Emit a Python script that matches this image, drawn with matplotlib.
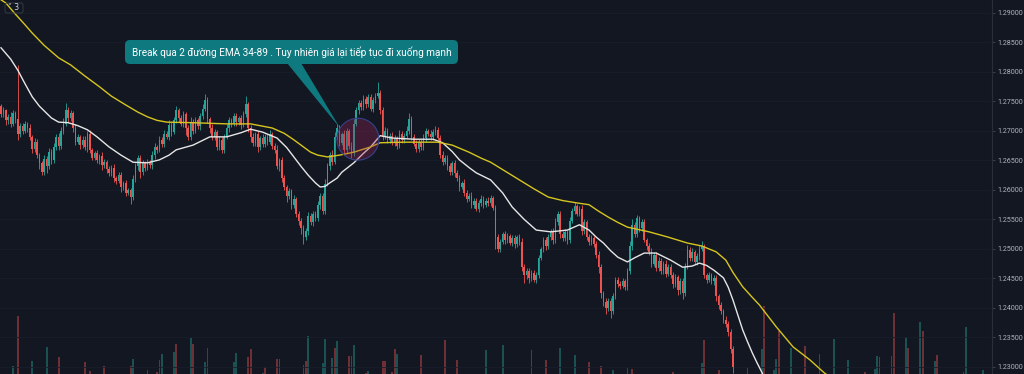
import matplotlib
matplotlib.use('Agg')
import matplotlib.pyplot as plt
from matplotlib.patches import Ellipse, FancyBboxPatch, Polygon
from matplotlib.transforms import IdentityTransform
import numpy as np

# prices are kept in pips above BASE (1.2735 -> 735)
BASE = 1.2
first_open = 742

closes = [
    728, 735, 718, 724, 712, 730, 720, 695, 708, 700,
    712, 705, 690, 670, 682, 660, 645, 630, 652, 640,
    665, 650, 672, 690, 675, 700, 712, 735, 722, 730,
    705, 682, 690, 676, 684, 672, 695, 668, 655, 662,
    650, 658, 642, 648, 635, 628, 638, 620, 615, 625,
    605, 612, 595, 600, 588, 618, 640, 655, 630, 645,
    638, 648, 642, 660, 672, 668, 685, 678, 695, 690,
    710, 698, 718, 735, 722, 712, 728, 705, 690, 715,
    700, 718, 708, 725, 738, 752, 720, 705, 690, 698,
    672, 685, 668, 690, 705, 718, 712, 725, 715, 722,
    710, 728, 745, 705, 690, 680, 695, 672, 688, 678,
    690, 682, 695, 675, 668, 640, 650, 620, 605, 590,
    598, 575, 585, 560, 548, 535, 520, 530, 555, 545,
    560, 552, 575, 590, 565, 610, 640, 660, 648, 690,
    705, 680, 695, 668, 700, 675, 662, 712, 735, 748,
    740, 755, 745, 758, 738, 752, 760, 765, 735, 690,
    700, 685, 692, 680, 688, 675, 695, 685, 692, 700,
    720, 690, 678, 670, 682, 672, 688, 700, 695, 690,
    698, 702, 688, 660, 648, 655, 640, 630, 645, 628,
    620, 605, 612, 595, 585, 590, 575, 582, 568, 578,
    585, 575, 582, 578, 586, 570, 520, 500, 512, 525,
    515, 522, 510, 518, 508, 520, 512, 470, 455, 462,
    450, 460, 448, 455, 485, 500, 515, 505, 520, 530,
    515, 545, 560, 525, 518, 528, 515, 548, 565, 572,
    560, 568, 530, 545, 520, 512, 518, 508, 490, 470,
    425, 410, 400, 412, 395, 420, 448, 440, 438, 445,
    436, 462, 505, 540, 525, 552, 535, 545, 515, 505,
    495, 475, 490, 468, 480, 462, 475, 458, 470, 455,
    440, 452, 430, 445, 425, 470, 498, 485, 495, 478,
    488, 500, 505, 455, 448, 455, 445, 450, 420, 405,
    395, 380, 372, 360, 330, 300,
]

wick_up = [
    4, 6, 3, 5, 8, 6, 4, 92, 5, 6,
    5, 4, 7, 3, 6, 5, 3, 4, 8, 5,
    6, 4, 8, 5, 6, 7, 10, 12, 5, 6,
    4, 6, 5, 3, 7, 8, 5, 6, 3, 4,
    5, 3, 6, 4, 3, 5, 4, 6, 3, 5,
    6, 4, 5, 3, 4, 8, 6, 5, 4, 6,
    4, 5, 3, 6, 8, 5, 7, 4, 6, 5,
    8, 5, 6, 7, 4, 5, 6, 4, 5, 8,
    6, 5, 4, 6, 8, 10, 5, 4, 6, 5,
    4, 6, 5, 4, 6, 5, 4, 6, 5, 4,
    5, 6, 14, 4, 5, 6, 4, 5, 3, 6,
    5, 4, 6, 3, 5, 8, 4, 6, 5, 4,
    5, 4, 6, 3, 5, 4, 6, 5, 8, 6,
    5, 4, 6, 5, 4, 8, 6, 5, 7, 8,
    6, 5, 4, 6, 5, 4, 6, 8, 6, 5,
    4, 6, 5, 4, 5, 6, 5, 18, 4, 5,
    6, 5, 4, 6, 5, 4, 6, 5, 4, 8,
    10, 5, 4, 6, 5, 4, 6, 5, 4, 6,
    5, 6, 4, 5, 6, 4, 5, 6, 4, 5,
    6, 5, 4, 6, 5, 4, 6, 5, 4, 5,
    6, 5, 4, 6, 5, 4, 5, 6, 5, 4,
    6, 5, 4, 5, 6, 4, 5, 6, 4, 5,
    6, 5, 4, 6, 5, 4, 5, 6, 5, 4,
    6, 8, 5, 4, 6, 5, 4, 6, 5, 8,
    5, 4, 6, 5, 4, 6, 5, 4, 5, 6,
    5, 4, 6, 5, 4, 6, 5, 4, 6, 5,
    4, 6, 8, 10, 5, 6, 4, 5, 6, 4,
    5, 6, 4, 5, 6, 4, 5, 6, 4, 5,
    6, 5, 4, 6, 5, 6, 8, 5, 6, 4,
    5, 6, 8, 4, 5, 6, 4, 5, 6, 4,
    5, 4, 6, 5, 4, 5,
]

wick_dn = [
    5, 4, 8, 6, 5, 4, 6, 10, 5, 6,
    4, 6, 5, 8, 5, 6, 10, 5, 4, 12,
    5, 6, 4, 5, 8, 6, 5, 4, 6, 5,
    6, 5, 4, 6, 5, 4, 8, 6, 5, 4,
    5, 6, 8, 4, 6, 5, 4, 6, 5, 4,
    8, 5, 6, 4, 12, 5, 4, 6, 10, 5,
    6, 4, 5, 6, 8, 5, 4, 6, 5, 4,
    5, 6, 4, 5, 6, 4, 5, 12, 6, 5,
    6, 4, 5, 6, 4, 5, 6, 8, 5, 6,
    5, 4, 6, 5, 4, 6, 5, 4, 6, 5,
    6, 4, 5, 6, 8, 5, 6, 8, 4, 6,
    5, 6, 4, 5, 6, 4, 8, 6, 5, 10,
    6, 8, 5, 6, 8, 10, 12, 5, 6, 5,
    6, 5, 4, 8, 6, 5, 4, 6, 5, 4,
    6, 5, 4, 6, 5, 6, 8, 5, 4, 6,
    5, 4, 6, 5, 4, 6, 5, 4, 6, 5,
    4, 6, 5, 4, 6, 5, 4, 6, 5, 4,
    5, 6, 4, 5, 6, 4, 5, 6, 4, 5,
    6, 5, 4, 6, 5, 4, 6, 5, 4, 6,
    5, 6, 4, 5, 6, 4, 5, 6, 4, 5,
    6, 5, 4, 6, 5, 4, 20, 6, 5, 4,
    6, 5, 4, 5, 6, 4, 5, 8, 12, 6,
    8, 5, 4, 6, 5, 4, 5, 6, 5, 4,
    6, 5, 4, 6, 5, 4, 6, 5, 4, 6,
    5, 4, 6, 5, 4, 6, 5, 4, 5, 10,
    8, 6, 10, 5, 12, 6, 5, 4, 6, 5,
    6, 5, 4, 6, 5, 4, 6, 5, 4, 6,
    5, 6, 4, 5, 6, 4, 5, 6, 4, 5,
    6, 5, 8, 6, 10, 5, 4, 6, 5, 4,
    5, 6, 4, 5, 6, 4, 5, 6, 8, 6,
    5, 6, 4, 8, 6, 10,
]

# EMA readings (candle index, pips)
ema34_idx = [0, 4, 7, 10, 13, 16, 18, 21, 24, 28, 32, 36, 40, 45, 50, 55, 61, 66, 70, 73,
             80, 87, 94, 100, 104, 109, 115, 119, 122, 125, 128, 131, 133, 135, 137, 140,
             142, 147, 151, 154, 158, 163, 172, 180, 184, 188, 191, 195, 198, 204, 209,
             213, 218, 223, 229, 236, 241, 245, 248, 251, 254, 257, 261, 264, 268, 273,
             279, 284, 288, 291, 294, 297, 301, 303, 305, 307, 309, 311, 313, 315, 317, 321]
ema34 = [841, 822, 803, 780, 758, 742, 734, 722, 715, 714, 709, 702, 690, 673, 659, 647,
         646, 651, 659, 668, 676, 690, 690, 697, 703, 698, 688, 672, 656, 640, 625, 612,
         605, 606, 612, 620, 630, 646, 662, 673, 692, 688, 686, 686, 680, 665, 651, 638,
         629, 617, 595, 571, 550, 532, 529, 532, 541, 532, 520, 510, 497, 486, 478, 485,
         493, 493, 481, 469, 471, 476, 472, 464, 451, 435, 413, 388, 363, 343, 324, 307,
         291, 255]

ema89_idx = [-1, 2, 6, 10, 13, 18, 24, 29, 35, 41, 46, 52, 57, 61, 65, 69, 80, 94, 104,
             113, 118, 122, 126, 129, 132, 136, 141, 147, 154, 158, 168, 182, 188, 195,
             200, 204, 210, 216, 222, 228, 234, 240, 245, 249, 253, 257, 261, 270, 278,
             286, 292, 298, 302, 305, 309, 313, 316, 323, 330, 337, 343, 350]
ema89 = [925, 917, 898, 880, 866, 845, 824, 812, 793, 775, 759, 744, 732, 724, 718, 715,
         714, 712, 712, 705, 696, 685, 673, 664, 659, 656, 659, 664, 673, 680, 681, 681,
         676, 664, 654, 647, 632, 617, 602, 588, 582, 578, 575, 564, 554, 545, 537, 529,
         520, 510, 505, 495, 481, 460, 436, 418, 405, 368, 334, 312, 290, 269]

# volume bars whose tops reach into the view
vol_idx = [5, 7, 13, 19, 24, 35, 37, 43, 54, 55,
           61, 65, 66, 67, 72, 73, 79, 80, 85, 86,
           97, 98, 103, 104, 109, 110, 115, 116, 126, 127,
           128, 134, 135, 138, 139, 140, 145, 146, 147, 152,
           153, 159, 160, 163, 164, 165, 175, 185, 190, 202,
           209, 221, 227, 233, 239, 245, 250, 255, 261, 263,
           280, 292, 293, 299, 311, 317, 318, 322, 323, 324,
           329, 335, 341, 347, 353, 360, 364, 365, 366, 371,
           372, 377, 378, 383, 384, 389, 390, 401, 402, 409]
vol = [108, 158, 113, 127, 117, 112, 103, 108, 108, 115,
       104, 102, 114, 120, 122, 130, 136, 130, 112, 126,
       112, 121, 117, 125, 101, 107, 115, 115, 109, 113,
       138, 111, 135, 116, 126, 133, 118, 118, 129, 101,
       103, 113, 113, 102, 125, 120, 119, 134, 114, 124,
       129, 124, 114, 126, 119, 112, 108, 104, 106, 105,
       102, 111, 134, 104, 107, 125, 168, 104, 115, 143,
       126, 128, 120, 135, 114, 102, 105, 118, 117, 118,
       161, 137, 126, 152, 143, 113, 119, 102, 147, 104]
vol_dir = ("uduudddddu" "uduuududuu" "uudduddddd" "uuuududdud"
           "uddddudddu" "udduudduud" "duddduduud" "udduuduudu" "dudududuuu")

price_ticks = [1.230, 1.235, 1.240, 1.245, 1.250, 1.255, 1.260,
               1.265, 1.270, 1.275, 1.280, 1.285, 1.290]

note = "Break qua 2 đường EMA 34-89 . Tuy nhiên giá lại tiếp tục đi xuống mạnh"
badge = "\u02c5 3"

bg = '#131722'
up_c = '#26a69a'
dn_c = '#ef5350'


def px(p):
    return BASE + np.asarray(p, dtype=float) / 1e4


fig = plt.figure(figsize=(10.24, 3.74), dpi=100, facecolor=bg)
rect = [0, 0, 992 / 1024, 1]
axv = fig.add_axes(rect)
ax = fig.add_axes(rect)
for a in (axv, ax):
    a.patch.set_visible(False)
    a.set_xlim(-0.42, 412.9)

# volume
axv.set_ylim(100, 474)
axv.bar(vol_idx, vol, width=0.75, linewidth=0, alpha=0.42,
        color=[up_c if d == 'u' else dn_c for d in vol_dir])
axv.axis('off')

# candles
c = np.array(closes, dtype=float)
o = np.array([first_open] + closes[:-1], dtype=float)
top = np.maximum(o, c)
bot = np.minimum(o, c)
hi = top + np.array(wick_up)
lo = bot - np.array(wick_dn)
idx = np.arange(len(c))
cols = [up_c if cc >= oo else dn_c for oo, cc in zip(o, c)]
ax.vlines(idx, px(lo), px(hi), colors=cols, linewidth=0.6, zorder=3)
ax.bar(idx, np.maximum(top - bot, 0.8) / 1e4, bottom=px(bot), width=0.66,
       color=cols, linewidth=0, zorder=4)

# EMA 34 / 89
ax.plot(ema34_idx, px(ema34), color='#e6e6e6', linewidth=1.0, zorder=5)
ax.plot(ema89_idx, px(ema89), color='#d6c51e', linewidth=1.0, zorder=5)

# highlight circle
ax.add_patch(Ellipse((148.7, px(686)), 17.5, 71e-4, facecolor=(0.62, 0.16, 0.35, 0.32),
                     edgecolor='#34428a', linewidth=0.8, zorder=6))

ax.set_ylim(px(288), px(922))
ax.set_yticks(price_ticks)
ax.set_yticklabels(['%.5f' % t for t in price_ticks], fontfamily='Roboto')
ax.yaxis.tick_right()
ax.tick_params(axis='y', colors='#434651', labelcolor='#b2b5be', labelsize=5.1,
               length=2.5, width=0.6, pad=1.5)
ax.set_xticks([])
ax.grid(axis='y', color='#1a1e2a', linewidth=0.6, zorder=0)
for s in ['top', 'left', 'bottom']:
    ax.spines[s].set_visible(False)
ax.spines['right'].set_color('#2a2e39')
ax.spines['right'].set_linewidth(0.8)

# callout (pixel coordinates, origin bottom-left)
H = 374
tr = IdentityTransform()
fig.add_artist(Polygon([(287, H - 63), (301, H - 63), (340, H - 128)], closed=True,
                       facecolor='#0f7980', edgecolor='none', transform=tr, zorder=8))
fig.add_artist(FancyBboxPatch((125, H - 64), 333, 24,
                              boxstyle='round,pad=0,rounding_size=5',
                              facecolor='#0f7980', edgecolor='none', transform=tr, zorder=9))
fig.text(291.5, H - 52.5, note, transform=tr, ha='center', va='center',
         color='white', fontsize=7.2, fontfamily='Roboto', zorder=10)

# pane badge
fig.add_artist(FancyBboxPatch((5, H - 13), 18, 10, boxstyle='round,pad=0,rounding_size=2',
                              facecolor='none', edgecolor='#363a45', linewidth=0.7,
                              transform=tr, zorder=8))
fig.text(14, H - 8, badge, transform=tr, ha='center', va='center', color='#d1d4dc',
         fontsize=5.5, fontfamily='DejaVu Sans', zorder=10)

fig.savefig('out.png', dpi=100, facecolor=bg)
